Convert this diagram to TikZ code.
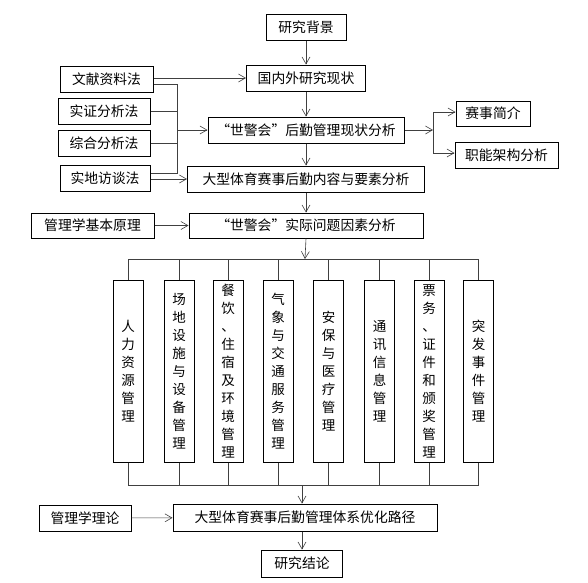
\documentclass[tikz,border=0pt]{standalone}
\usepackage{fontspec}
\setmainfont{Noto Sans CJK SC}
\usetikzlibrary{arrows.meta}
\begin{document}
\begin{tikzpicture}[x=1pt,y=-1pt]
    \tikzset{kuang/.style={draw, line width=1pt, inner sep=0pt, minimum height=26pt,
        font=\fontsize{13.8}{18}\selectfont}}
    \tikzset{shu/.style={kuang, minimum width=30pt, minimum height=182pt, align=center,
        font=\fontsize{13.5}{18}\selectfont}}
    \tikzset{lian/.style={black!75, line width=0.6pt}}
    \tikzset{jt/.style={lian, -{Straight Barb[length=7pt,width=8pt]}}}
    \useasboundingbox (0,0) rectangle (588,582);
    \node[kuang, minimum width=80pt] (bj) at (306, 27) {研究背景};
    \node[kuang, minimum width=119pt] (xz) at (306, 78) {国内外研究现状};
    \node[kuang, minimum width=93pt] (wx) at (106.5, 79) {文献资料法};
    \node[kuang, minimum width=92pt] (sz) at (104, 111) {实证分析法};
    \node[kuang, minimum width=92pt] (zh) at (104, 143.5) {综合分析法};
    \node[kuang, minimum width=90pt] (sd) at (105, 178.5) {实地访谈法};
    \node[kuang, minimum width=196pt] (hq) at (306, 130) {“世警会”后勤管理现状分析};
    \node[kuang, minimum width=74pt, minimum height=25pt] (ss) at (493, 113.5) {赛事简介};
    \node[kuang, minimum width=103pt] (zn) at (506.5, 155) {职能架构分析};
    \node[kuang, minimum width=237pt] (nr) at (306, 179) {大型体育赛事后勤内容与要素分析};
    \node[kuang, minimum width=123pt, minimum height=25pt] (yl) at (92.5, 225.5) {管理学基本原理};
    \node[kuang, minimum width=234pt, minimum height=25pt] (wt) at (306, 225.5) {“世警会”实际问题因素分析};
    \node[shu] (m1) at (128, 371) {人\\力\\资\\源\\管\\理};
    \node[shu] (m2) at (179, 371) {场\\地\\设\\施\\与\\设\\备\\管\\理};
    \node[shu] (m3) at (228, 371) {餐\\饮\\、\\住\\宿\\及\\环\\境\\管\\理};
    \node[shu] (m4) at (278, 371) {气\\象\\与\\交\\通\\服\\务\\管\\理};
    \node[shu] (m5) at (328.5, 371) {安\\保\\与\\医\\疗\\管\\理};
    \node[shu] (m6) at (379.5, 371) {通\\讯\\信\\息\\管\\理};
    \node[shu] (m7) at (429, 371) {票\\务\\、\\证\\件\\和\\颁\\奖\\管\\理};
    \node[shu] (m8) at (478.5, 371) {突\\发\\事\\件\\管\\理};
    \node[kuang, minimum width=92pt] (lt) at (85, 518) {管理学理论};
    \node[kuang, minimum width=264pt, minimum height=27pt] (yh) at (305, 517.5) {大型体育赛事后勤管理体系优化路径};
    \node[kuang, minimum width=81pt, minimum height=27pt] (jl) at (302, 563.5) {研究结论};
    % methods on the left
    \coordinate (zb) at (177, 84);
    \coordinate (zx) at (177, 173);
    \draw[jt] (wx.east |- xz.west) -- (xz.west);
    \draw[lian] (wx.east |- zb) -- (zb) -- (zx) -- (sd.east |- zx);
    \draw[lian] (sz.east) -- (sz.east -| zb);
    \draw[lian] (zh.east) -- (zh.east -| zb);
    \draw[jt] (zb |- hq.west) -- (hq.west);
    \draw[jt] (sd.east |- nr.west) -- (nr.west);
    \draw[jt] (yl) -- (wt);
    % main column
    \draw[jt] (bj.south) -- (bj.south |- xz.north);
    \draw[jt] (xz.south) -- (xz.south |- hq.north);
    \draw[jt] (hq.south) -- (hq.south |- nr.north);
    \draw[jt] (nr.south) -- (nr.south |- wt.north);
    % right branch
    \coordinate (ks) at (433, 112);
    \coordinate (kx) at (433, 153);
    \draw[jt] (hq.east) -- (hq.east -| ks);
    \draw[lian] (ks) -- (kx);
    \draw[jt] (ks) -- (ks -| ss.west);
    \draw[jt] (kx) -- (kx -| zn.west);
    % eight parts
    \coordinate (bs) at (305, 259);
    \coordinate (bx) at (302, 485);
    \draw[jt] (wt.south) -- (bs);
    \draw[lian] (m1.north |- bs) -- (m8.north |- bs);
    \draw[lian] (m1.south |- bx) -- (m8.south |- bx);
    \foreach \i in {1,...,8} {
        \draw[lian] (m\i.north |- bs) -- (m\i.north);
        \draw[lian] (m\i.south) -- (m\i.south |- bx);
    }
    \draw[jt] (bx) -- (bx |- yh.north);
    \draw[jt] (lt) -- (yh);
    \draw[jt] (yh.south -| bx) -- (bx |- jl.north);
\end{tikzpicture}
\end{document}
